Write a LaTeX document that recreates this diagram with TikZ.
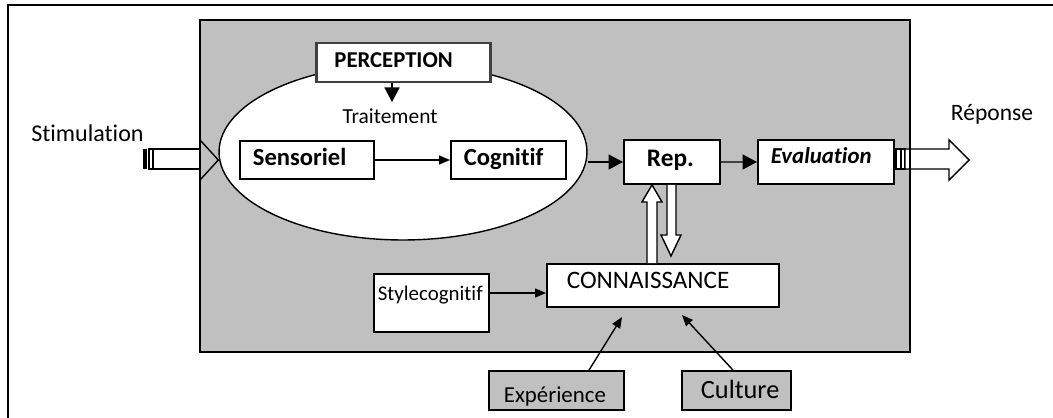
\documentclass[tikz,border=0pt]{standalone}
\usepackage{fontspec}
\setmainfont{Carlito}[Ligatures=NoCommon]
\usetikzlibrary{arrows.meta,shapes.geometric}
\definecolor{fond}{RGB}{192,192,192}
\definecolor{bord}{RGB}{64,64,64}

\begin{document}
\begin{tikzpicture}[x=0.02cm,y=-0.02cm,
    boite/.style={draw,line width=1pt,fill=white,inner sep=0pt,align=left,anchor=base west},
    fl/.style={line width=.8pt,-{Triangle[length=2.2mm,width=1.8mm]}},
    gfl/.style={line width=.8pt,-{Triangle[length=2.9mm,width=3mm]}},
    large/.style={draw,line width=.8pt,fill=white}]
  \useasboundingbox (0,0) rectangle (1053,418);
  \draw[line width=1.2pt] (8,418) |- (1053,5);
  \fill[fond] (200,20) rectangle (910,352);

  \node[draw,ellipse,fill=white,line width=.8pt,minimum width=7.36cm,minimum height=3.52cm] (T) at (403,152) {};

  \node[anchor=base,font=\fontsize{13.7}{16}\selectfont] (st) at (87.5,142) {Stimulation};
  \node[anchor=base,font=\fontsize{13.4}{16}\selectfont] (rp) at (992,121) {Réponse};
  \node[anchor=base,font=\fontsize{12.2}{14}\selectfont] (tr) at (390,124) {Traitement};

  \node[boite,line width=1.7pt,draw=bord,text width=3.48cm,text height=.50cm,text depth=.28cm,
        font=\bfseries\fontsize{12.9}{15}\selectfont] (P) at (315,68) {\hspace*{.36cm}PERCEPTION};
  \node[boite,text width=2.68cm,text height=.50cm,text depth=.26cm,
        font=\bfseries\fontsize{14}{17}\selectfont] (S) at (239,166) {\hspace*{.26cm}Sensoriel};
  \node[boite,text width=2.30cm,text height=.50cm,text depth=.26cm,
        font=\bfseries\fontsize{14}{17}\selectfont] (C) at (450,166) {\hspace*{.26cm}Cognitif};
  \node[boite,text width=1.92cm,text height=.54cm,text depth=.34cm,
        font=\bfseries\fontsize{14.4}{17}\selectfont] (R) at (623,167) {\hspace*{.46cm}Rep.};
  \node[boite,text width=2.72cm,text height=.48cm,text depth=.40cm,
        font=\bfseries\itshape\fontsize{13}{15}\selectfont] (E) at (757,164) {\hspace*{.26cm}Evaluation};
  \node[boite,text width=4.64cm,text height=.48cm,text depth=.38cm,
        font=\fontsize{14.3}{16}\selectfont] (K) at (546,288) {\hspace*{.40cm}CONNAISSANCE};
  \node[boite,text width=2.30cm,text height=.52cm,text depth=.64cm,
        font=\fontsize{11.9}{14}\selectfont] (Y) at (373,300) {\hspace*{.08cm}Stylecognitif};
  \node[boite,fill=fond,text width=2.70cm,text height=.62cm,text depth=.16cm,
        font=\fontsize{13}{15}\selectfont] (X) at (488,402) {\hspace*{.30cm}Expérience};
  \node[boite,fill=fond,text width=2.18cm,text height=.54cm,text depth=.24cm,
        font=\fontsize{15}{17}\selectfont] (U) at (681,398) {\hspace*{.38cm}Culture};

  % fleches fines
  \coordinate (t) at (392,102);
  \coordinate (kx) at (622,317);
  \coordinate (ku) at (682,315);
  \draw[gfl] (P.south -| t) -- (t);
  \draw[fl] (S) -- (C);
  \draw[gfl] (T.east |- R.west) -- (R.west);
  \draw[gfl] (R) -- (E);
  \draw[fl] (Y.east |- 0,293) -- (K.west |- 0,293);
  \draw[fl] (X.north -| 589,0) -- (kx);
  \draw[fl] (U.north -| 733,0) -- (ku);

  % fleches larges
  \draw[large] (647,0 |- K.north) -- (647,202) -- (642,202) -- (652,0 |- R.south)
    -- (662,202) -- (657,202) -- (657,0 |- K.north);
  \draw[large] (667,0 |- R.south) -- (667,235) -- (661,235) -- (671,256)
    -- (681,235) -- (676,235) -- (676,0 |- R.south);

  \fill (143,149) rectangle (147,169);
  \draw[line width=.8pt] (149,149) rectangle (153,169);
  \draw[large] (153,149) rectangle (200,169);
  \draw[line width=.8pt] (200,140) -- (T.west |- 0,160) -- (200,180);

  \draw[large] (896,149) rectangle (901,169);
  \draw[large] (901,149) rectangle (905,169);
  \draw[large] (905,149) -- (949,149) -- (949,140) -- (969,160) -- (949,180)
    -- (949,169) -- (905,169) -- cycle;

  \draw[line width=1.2pt] (200,20) rectangle (910,352);
\end{tikzpicture}
\end{document}
